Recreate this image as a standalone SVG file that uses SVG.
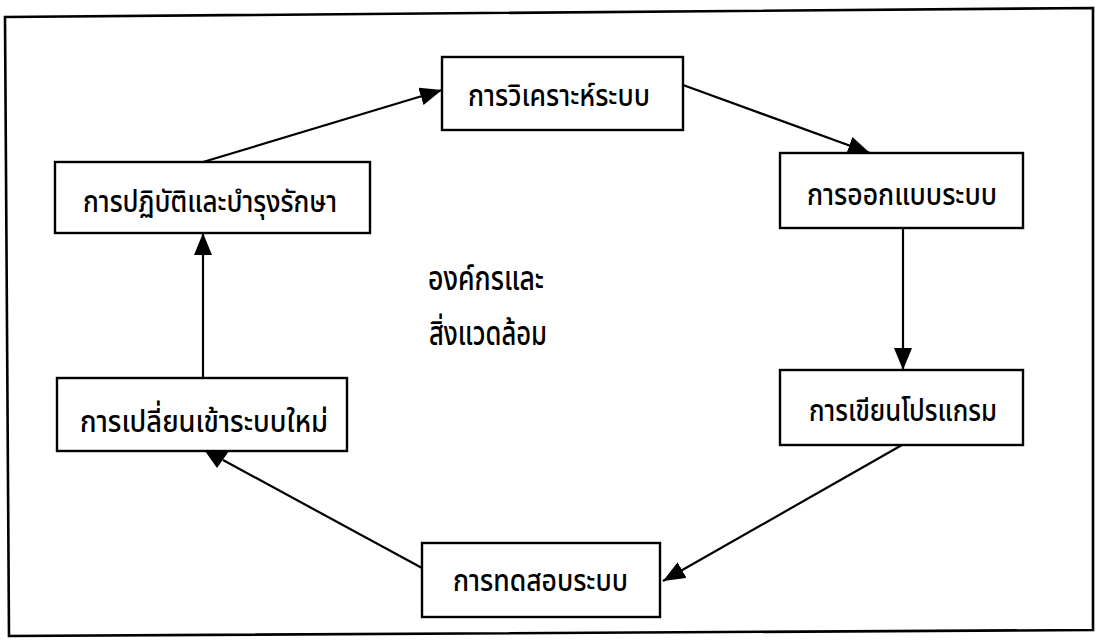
<svg xmlns="http://www.w3.org/2000/svg" width="1102" height="640" viewBox="0 0 1102 640">
<defs>
<style>
.box{fill:#fff;stroke:#000;stroke-width:2.4}
.lbl{font-family:"Noto Sans Thai","Noto Sans","DejaVu Sans",sans-serif;font-size:31px;font-weight:500;fill:#000}
.big{font-size:33px}
.con{fill:none;stroke:#000;stroke-width:2.2}
.frame{fill:#fff;stroke:#000;stroke-width:2.6}
</style>
<marker id="ah" viewBox="0 0 22 18" refX="22" refY="9" markerWidth="22" markerHeight="18" markerUnits="userSpaceOnUse" orient="auto">
<path d="M0,0 L22,9 L0,18 Z" fill="#000"/>
</marker>
</defs>
<rect width="1102" height="640" fill="#fff"/>
<path class="frame" d="M5,17 L1093,8 L1093,630 L9,636 Z"/>
<g id="connectors">
<line class="con" x1="203" y1="162" x2="442" y2="90" marker-end="url(#ah)"/>
<line class="con" x1="683" y1="85" x2="870" y2="153" marker-end="url(#ah)"/>
<line class="con" x1="903" y1="228" x2="903" y2="370" marker-end="url(#ah)"/>
<line class="con" x1="902" y1="445" x2="663" y2="581" marker-end="url(#ah)"/>
<line class="con" x1="422" y1="568" x2="223" y2="460"/>
<path d="M205,451 L229,451 L217,468 Z" fill="#000"/>
<line class="con" x1="203" y1="378" x2="203" y2="233" marker-end="url(#ah)"/>
</g>
<g id="n1">
<rect class="box" x="442" y="57" width="241" height="73"/>
<text class="lbl" x="468" y="106" textLength="182" lengthAdjust="spacingAndGlyphs">การวิเคราะห์ระบบ</text>
</g>
<g id="n2">
<rect class="box" x="780" y="153" width="243" height="75"/>
<text class="lbl" x="807" y="205" textLength="190" lengthAdjust="spacingAndGlyphs">การออกแบบระบบ</text>
</g>
<g id="n3">
<rect class="box" x="780" y="370" width="243" height="75"/>
<text class="lbl" x="809" y="421" textLength="188" lengthAdjust="spacingAndGlyphs">การเขียนโปรแกรม</text>
</g>
<g id="n4">
<rect class="box" x="422" y="543" width="238" height="74"/>
<text class="lbl" x="453" y="591" textLength="175" lengthAdjust="spacingAndGlyphs">การทดสอบระบบ</text>
</g>
<g id="n5">
<rect class="box" x="57" y="378" width="290" height="73"/>
<text class="lbl" x="80" y="432" textLength="248" lengthAdjust="spacingAndGlyphs">การเปลี่ยนเข้าระบบใหม่</text>
</g>
<g id="n6">
<rect class="box" x="55" y="162" width="315" height="71"/>
<text class="lbl" x="83" y="212" textLength="254" lengthAdjust="spacingAndGlyphs">การปฏิบัติและบำรุงรักษา</text>
</g>
<g id="center">
<text class="lbl big" x="428" y="290" textLength="116" lengthAdjust="spacingAndGlyphs">องค์กรและ</text>
<text class="lbl big" x="429" y="345" textLength="118" lengthAdjust="spacingAndGlyphs">สิ่งแวดล้อม</text>
</g>
</svg>
